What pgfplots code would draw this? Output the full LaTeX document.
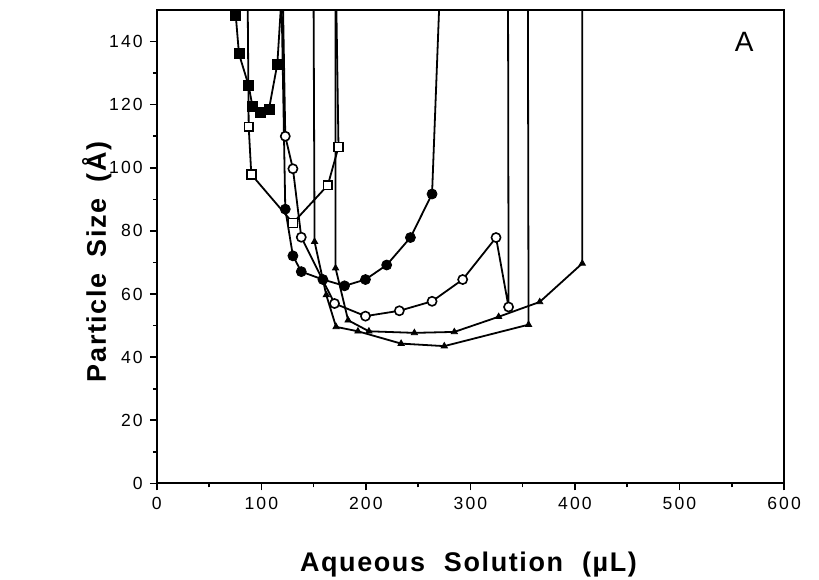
\documentclass[border=0pt]{standalone}
\usepackage{fontspec}
\setmainfont{Liberation Sans}
\newfontfamily\tickfont[LetterSpace=12]{Liberation Sans}
\newfontfamily\labfont[LetterSpace=6]{Liberation Sans}
\usepackage{pgfplots}
\pgfplotsset{compat=1.18}

\begin{document}
\begin{tikzpicture}
\useasboundingbox (-78.5pt,-48pt) rectangle (331.5pt,242pt);
\begin{axis}[
  scale only axis, width=314pt, height=237pt,
  xmin=0, xmax=600, ymin=0, ymax=150,
  xtick={0,100,...,600}, ytick={0,20,...,140},
  minor x tick num=1, minor y tick num=1,
  tick align=outside, tick pos=left,
  major tick length=3.5pt, minor tick length=2pt,
  axis line style={line width=1pt},
  every tick/.style={line width=0.8pt, black},
  /pgf/number format/assume math mode=true,
  tick label style={font=\tickfont\fontsize{8.8}{10}\selectfont},
  clip=true,
]
% --- connecting lines (incl. vertical runs to top) ---
\addplot[black, line width=0.9pt, no marks] coordinates {
 (75.5,148.4) (78.6,136.1) (87.9,126) (91.4,119.6) (99,117.7) (107.3,118.6) (115.3,132.9) (118.5,150)};
\addplot[black, line width=0.9pt, no marks] coordinates {
 (87,150) (87.9,113) (90.4,97.9) (130.2,82.5) (163.6,94.5) (173.8,106.6) (171.8,150)};
\addplot[black, line width=0.9pt, no marks] coordinates {
 (119.5,150) (122.9,86.9) (130.2,72.1) (138.2,67.1) (158.9,64.6) (179.6,62.6) (199.6,64.6) (219.9,69.2) (242.6,77.9) (263.3,91.7) (270,150)};
\addplot[black, line width=0.9pt, no marks] coordinates {
 (120.8,150) (122.9,110) (130.2,99.7) (138.2,78) (170,57) (199.6,53) (232,54.7) (263.3,57.7) (292.6,64.6) (324.5,77.9) (336.5,55.9) (336,150)};
\addplot[black, line width=0.9pt, no marks] coordinates {
 (150,150) (150.9,76.6) (162.1,59.7) (171.5,49.6) (192.4,48.2) (233.7,44.3) (275,43.5) (355.6,50.3) (355,150)};
\addplot[black, line width=0.9pt, no marks] coordinates {
 (171,150) (171,68.2) (183,51.7) (202.9,48.2) (246.4,47.7) (284.6,48) (327,52.8) (366.3,57.5) (407,69.7) (407,150)};
% --- markers ---
\addplot[only marks, mark=square*, mark size=2.5pt, mark options={fill=black, draw=black}] coordinates {
 (75.5,148.4) (78.6,136.1) (87.9,126) (91.4,119.6) (99,117.7) (107.3,118.6) (115.3,132.9)};
\addplot[only marks, mark=square*, mark size=2.2pt, mark options={fill=white, draw=black, line width=0.8pt}] coordinates {
 (87.9,113) (90.4,97.9) (130.2,82.5) (163.6,94.5) (173.8,106.6)};
\addplot[only marks, mark=*, mark size=2.5pt, mark options={fill=black, draw=black}] coordinates {
 (122.9,86.9) (130.2,72.1) (138.2,67.1) (158.9,64.6) (179.6,62.6) (199.6,64.6) (219.9,69.2) (242.6,77.9) (263.3,91.7)};
\addplot[only marks, mark=*, mark size=2.3pt, mark options={fill=white, draw=black, line width=0.8pt}] coordinates {
 (122.9,110) (130.2,99.7) (138.2,78) (170,57) (199.6,53) (232,54.7) (263.3,57.7) (292.6,64.6) (324.5,77.9) (336.5,55.9)};
\addplot[only marks, mark=triangle*, mark size=1.8pt, mark options={fill=black, draw=black}] coordinates {
 (150.9,76.6) (162.1,59.7) (171.5,49.6) (192.4,48.2) (233.7,44.3) (275,43.5) (355.6,50.3)};
\addplot[only marks, mark=triangle*, mark size=1.8pt, mark options={fill=black, draw=black}] coordinates {
 (171,68.2) (183,51.7) (202.9,48.2) (246.4,47.7) (284.6,48) (327,52.8) (366.3,57.5) (407,69.7)};
\node[font=\fontsize{14}{16}\selectfont] at (axis cs:562,140) {A};
\end{axis}
\node[anchor=center, font=\labfont\bfseries\fontsize{13.5}{15}\selectfont]
  at (156pt,-40.5pt) {Aqueous\hspace{0.7em}Solution\hspace{0.7em}(µL)};
\node[anchor=center, rotate=90, font=\labfont\bfseries\fontsize{13.5}{15}\selectfont]
  at (-30pt,110.9pt) {Particle\hspace{0.6em}Size\hspace{0.6em}(Å)};
\end{tikzpicture}
\end{document}
